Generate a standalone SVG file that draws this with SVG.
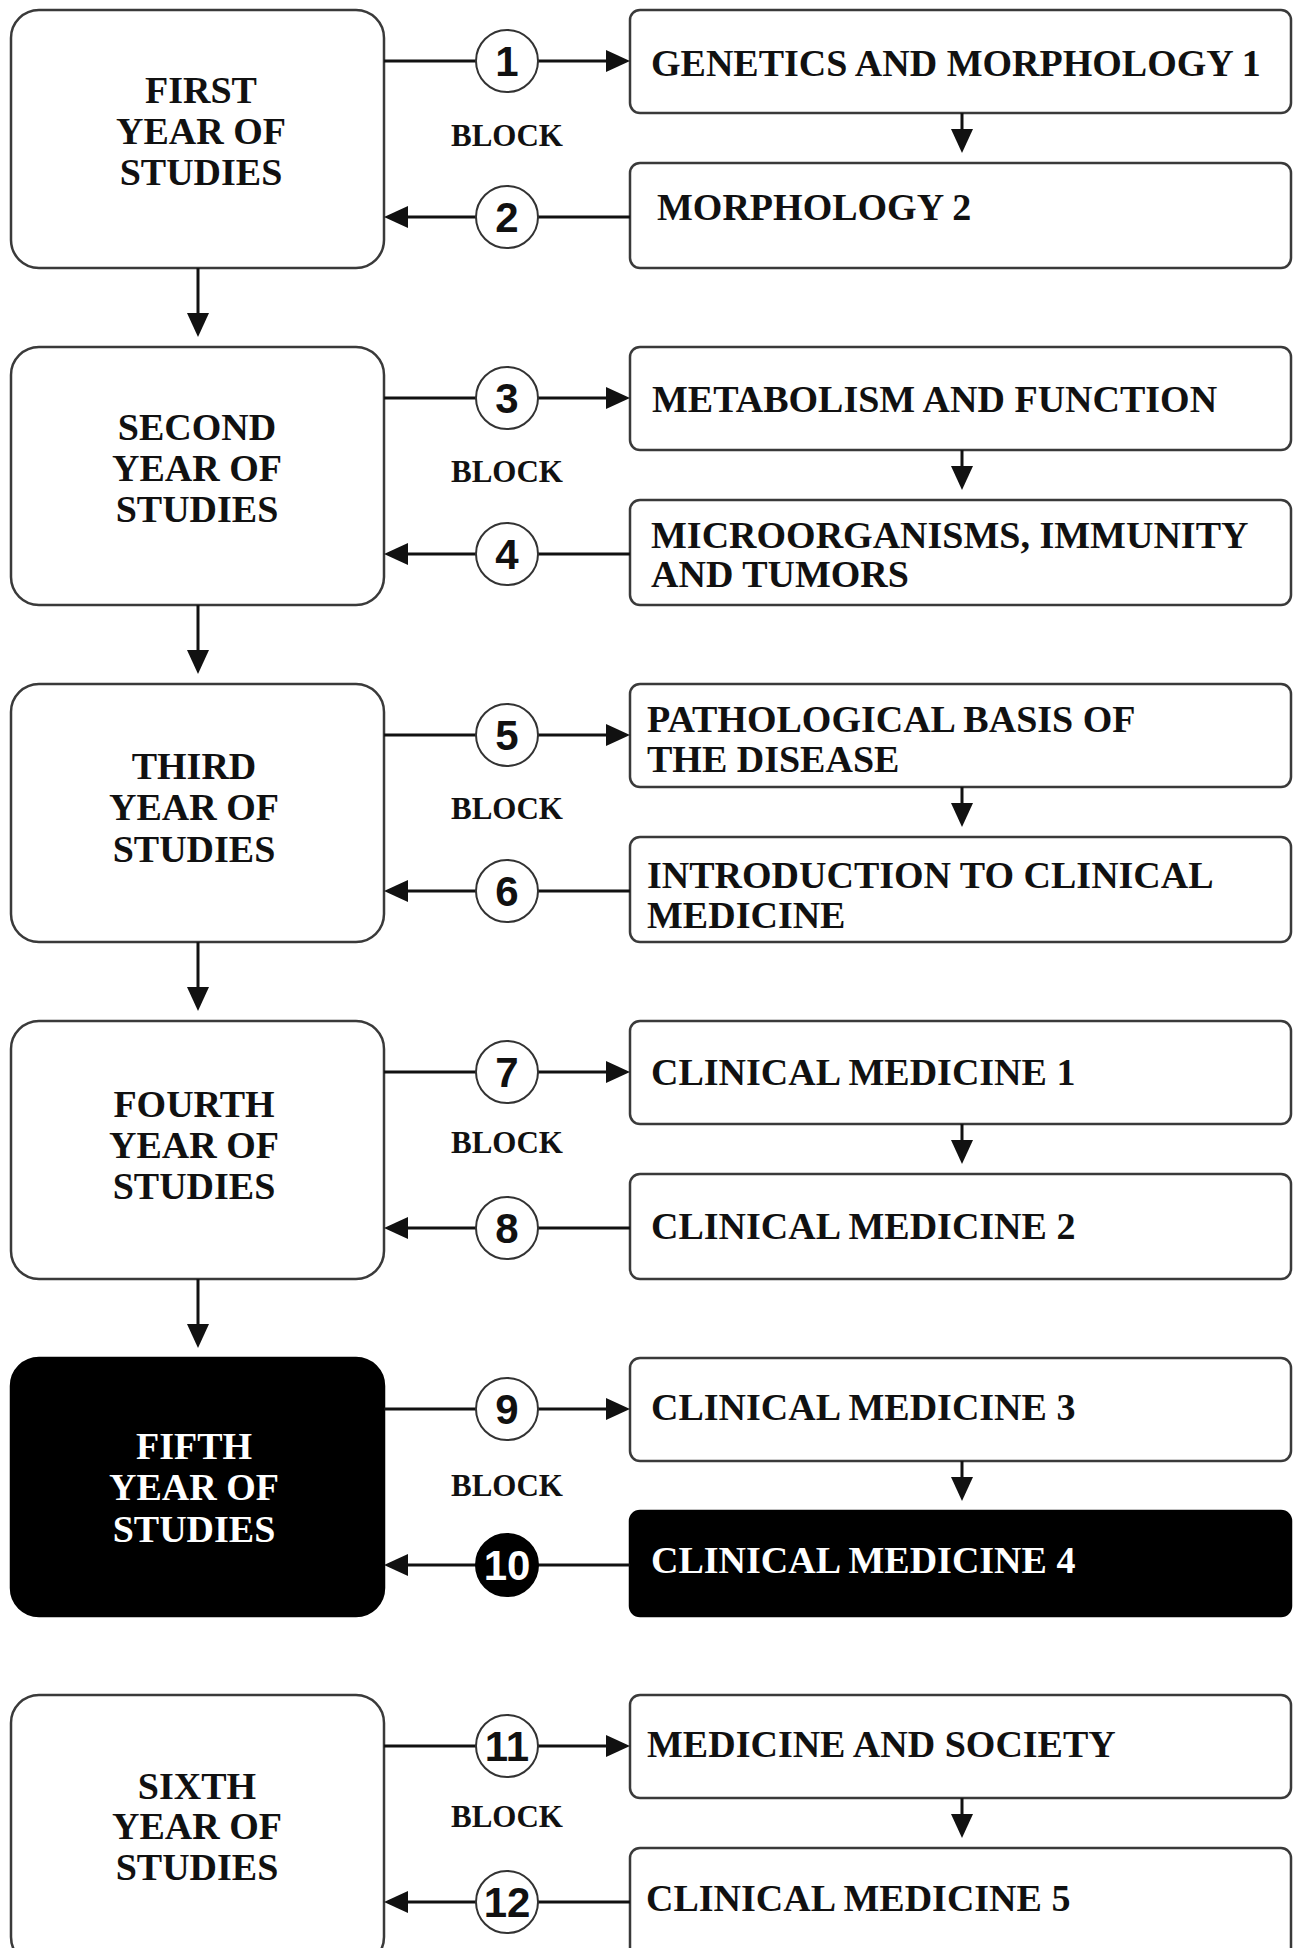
<svg xmlns="http://www.w3.org/2000/svg" width="1294" height="1948" viewBox="0 0 1294 1948">
<style>
.yr{fill:#fff;stroke:#3a3a3a;stroke-width:2.5}
.sb{fill:#fff;stroke:#3a3a3a;stroke-width:2.5}
.dark{fill:#000;stroke:#000}
.ht{font-family:"Liberation Serif","Times New Roman",serif;font-weight:bold;font-size:38px;fill:#111;text-anchor:middle}
.rt{font-family:"Liberation Serif","Times New Roman",serif;font-weight:bold;font-size:38px;fill:#111}
.bl{font-family:"Liberation Serif","Times New Roman",serif;font-weight:bold;font-size:31px;fill:#111;text-anchor:middle}
.ln{stroke:#111;stroke-width:3;fill:none}
.num{fill:#fff;stroke:#333;stroke-width:2}
.numd{fill:#000;stroke:#000;stroke-width:2}
.nt{font-family:"Liberation Sans",Arial,sans-serif;font-weight:bold;font-size:42px;fill:#111;text-anchor:middle}
text.wt{fill:#fff}
</style>
<defs>
<marker id="ah" markerUnits="userSpaceOnUse" markerWidth="24" markerHeight="24" refX="12" refY="12" orient="auto">
<path d="M0,1 L24,12 L0,23 Z" fill="#111"/>
</marker>
</defs>
<rect width="1294" height="1948" fill="#fff"/>

<!-- Row 1 -->
<g id="year1"><rect class="yr" x="11" y="10" width="373" height="258" rx="28"/>
<text class="ht" x="201" y="103">FIRST</text><text class="ht" x="201" y="144">YEAR OF</text><text class="ht" x="201" y="185">STUDIES</text></g>
<g id="gm1"><rect class="sb" x="630" y="10" width="661" height="103" rx="10"/><text class="rt" x="651" y="76">GENETICS AND MORPHOLOGY 1</text></g>
<g id="m2"><rect class="sb" x="630" y="163" width="661" height="105" rx="10"/><text class="rt" x="657" y="220">MORPHOLOGY 2</text></g>
<text class="bl" x="507" y="146">BLOCK</text>

<!-- Row 2 -->
<g id="year2"><rect class="yr" x="11" y="347" width="373" height="258" rx="28"/>
<text class="ht" x="197" y="440">SECOND</text><text class="ht" x="197" y="481">YEAR OF</text><text class="ht" x="197" y="522">STUDIES</text></g>
<g id="metab"><rect class="sb" x="630" y="347" width="661" height="103" rx="10"/><text class="rt" x="652" y="412">METABOLISM AND FUNCTION</text></g>
<g id="micro"><rect class="sb" x="630" y="500" width="661" height="105" rx="10"/><text class="rt" x="651" y="548">MICROORGANISMS, IMMUNITY</text><text class="rt" x="651" y="587">AND TUMORS</text></g>
<text class="bl" x="507" y="482">BLOCK</text>

<!-- Row 3 -->
<g id="year3"><rect class="yr" x="11" y="684" width="373" height="258" rx="28"/>
<text class="ht" x="194" y="779">THIRD</text><text class="ht" x="194" y="820">YEAR OF</text><text class="ht" x="194" y="862">STUDIES</text></g>
<g id="patho"><rect class="sb" x="630" y="684" width="661" height="103" rx="10"/><text class="rt" x="647" y="732">PATHOLOGICAL BASIS OF</text><text class="rt" x="647" y="772">THE DISEASE</text></g>
<g id="intro"><rect class="sb" x="630" y="837" width="661" height="105" rx="10"/><text class="rt" x="647" y="888">INTRODUCTION TO CLINICAL</text><text class="rt" x="647" y="928">MEDICINE</text></g>
<text class="bl" x="507" y="819">BLOCK</text>

<!-- Row 4 -->
<g id="year4"><rect class="yr" x="11" y="1021" width="373" height="258" rx="28"/>
<text class="ht" x="194" y="1117">FOURTH</text><text class="ht" x="194" y="1158">YEAR OF</text><text class="ht" x="194" y="1199">STUDIES</text></g>
<g id="cm1"><rect class="sb" x="630" y="1021" width="661" height="103" rx="10"/><text class="rt" x="651" y="1085">CLINICAL MEDICINE 1</text></g>
<g id="cm2"><rect class="sb" x="630" y="1174" width="661" height="105" rx="10"/><text class="rt" x="651" y="1239">CLINICAL MEDICINE 2</text></g>
<text class="bl" x="507" y="1153">BLOCK</text>

<!-- Row 5 -->
<g id="year5"><rect class="yr dark" x="11" y="1358" width="373" height="258" rx="28"/>
<text class="ht wt" x="194" y="1459">FIFTH</text><text class="ht wt" x="194" y="1500">YEAR OF</text><text class="ht wt" x="194" y="1542">STUDIES</text></g>
<g id="cm3"><rect class="sb" x="630" y="1358" width="661" height="103" rx="10"/><text class="rt" x="651" y="1420">CLINICAL MEDICINE 3</text></g>
<g id="cm4"><rect class="sb dark" x="630" y="1511" width="661" height="105" rx="10"/><text class="rt wt" x="651" y="1573">CLINICAL MEDICINE 4</text></g>
<text class="bl" x="507" y="1496">BLOCK</text>

<!-- Row 6 -->
<g id="year6"><rect class="yr" x="11" y="1695" width="373" height="270" rx="28"/>
<text class="ht" x="197" y="1799">SIXTH</text><text class="ht" x="197" y="1839">YEAR OF</text><text class="ht" x="197" y="1880">STUDIES</text></g>
<g id="mas"><rect class="sb" x="630" y="1695" width="661" height="103" rx="10"/><text class="rt" x="647" y="1757">MEDICINE AND SOCIETY</text></g>
<g id="cm5"><rect class="sb" x="630" y="1848" width="661" height="120" rx="10"/><text class="rt" x="646" y="1911">CLINICAL MEDICINE 5</text></g>
<text class="bl" x="507" y="1827">BLOCK</text>

<g id="connectors">
<line class="ln" x1="198" y1="268" x2="198" y2="325" marker-end="url(#ah)"/>
<line class="ln" x1="198" y1="605" x2="198" y2="662" marker-end="url(#ah)"/>
<line class="ln" x1="198" y1="942" x2="198" y2="999" marker-end="url(#ah)"/>
<line class="ln" x1="198" y1="1279" x2="198" y2="1336" marker-end="url(#ah)"/>
<line class="ln" x1="962" y1="113" x2="962" y2="141" marker-end="url(#ah)"/>
<line class="ln" x1="962" y1="450" x2="962" y2="478" marker-end="url(#ah)"/>
<line class="ln" x1="962" y1="787" x2="962" y2="815" marker-end="url(#ah)"/>
<line class="ln" x1="962" y1="1124" x2="962" y2="1152" marker-end="url(#ah)"/>
<line class="ln" x1="962" y1="1461" x2="962" y2="1489" marker-end="url(#ah)"/>
<line class="ln" x1="962" y1="1798" x2="962" y2="1826" marker-end="url(#ah)"/>
<line class="ln" x1="384" y1="61" x2="618" y2="61" marker-end="url(#ah)"/>
<line class="ln" x1="630" y1="217" x2="396" y2="217" marker-end="url(#ah)"/>
<line class="ln" x1="384" y1="398" x2="618" y2="398" marker-end="url(#ah)"/>
<line class="ln" x1="630" y1="554" x2="396" y2="554" marker-end="url(#ah)"/>
<line class="ln" x1="384" y1="735" x2="618" y2="735" marker-end="url(#ah)"/>
<line class="ln" x1="630" y1="891" x2="396" y2="891" marker-end="url(#ah)"/>
<line class="ln" x1="384" y1="1072" x2="618" y2="1072" marker-end="url(#ah)"/>
<line class="ln" x1="630" y1="1228" x2="396" y2="1228" marker-end="url(#ah)"/>
<line class="ln" x1="384" y1="1409" x2="618" y2="1409" marker-end="url(#ah)"/>
<line class="ln" x1="630" y1="1565" x2="396" y2="1565" marker-end="url(#ah)"/>
<line class="ln" x1="384" y1="1746" x2="618" y2="1746" marker-end="url(#ah)"/>
<line class="ln" x1="630" y1="1902" x2="396" y2="1902" marker-end="url(#ah)"/>
<circle class="num" cx="507" cy="61" r="31"/><text class="nt" x="507" y="76">1</text>
<circle class="num" cx="507" cy="217" r="31"/><text class="nt" x="507" y="232">2</text>
<circle class="num" cx="507" cy="398" r="31"/><text class="nt" x="507" y="413">3</text>
<circle class="num" cx="507" cy="554" r="31"/><text class="nt" x="507" y="569">4</text>
<circle class="num" cx="507" cy="735" r="31"/><text class="nt" x="507" y="750">5</text>
<circle class="num" cx="507" cy="891" r="31"/><text class="nt" x="507" y="906">6</text>
<circle class="num" cx="507" cy="1072" r="31"/><text class="nt" x="507" y="1087">7</text>
<circle class="num" cx="507" cy="1228" r="31"/><text class="nt" x="507" y="1243">8</text>
<circle class="num" cx="507" cy="1409" r="31"/><text class="nt" x="507" y="1424">9</text>
<circle class="numd" cx="507" cy="1565" r="31"/><text class="nt wt" x="507" y="1580">10</text>
<circle class="num" cx="507" cy="1746" r="31"/><text class="nt" x="507" y="1761">11</text>
<circle class="num" cx="507" cy="1902" r="31"/><text class="nt" x="507" y="1917">12</text>
</g>
</svg>
